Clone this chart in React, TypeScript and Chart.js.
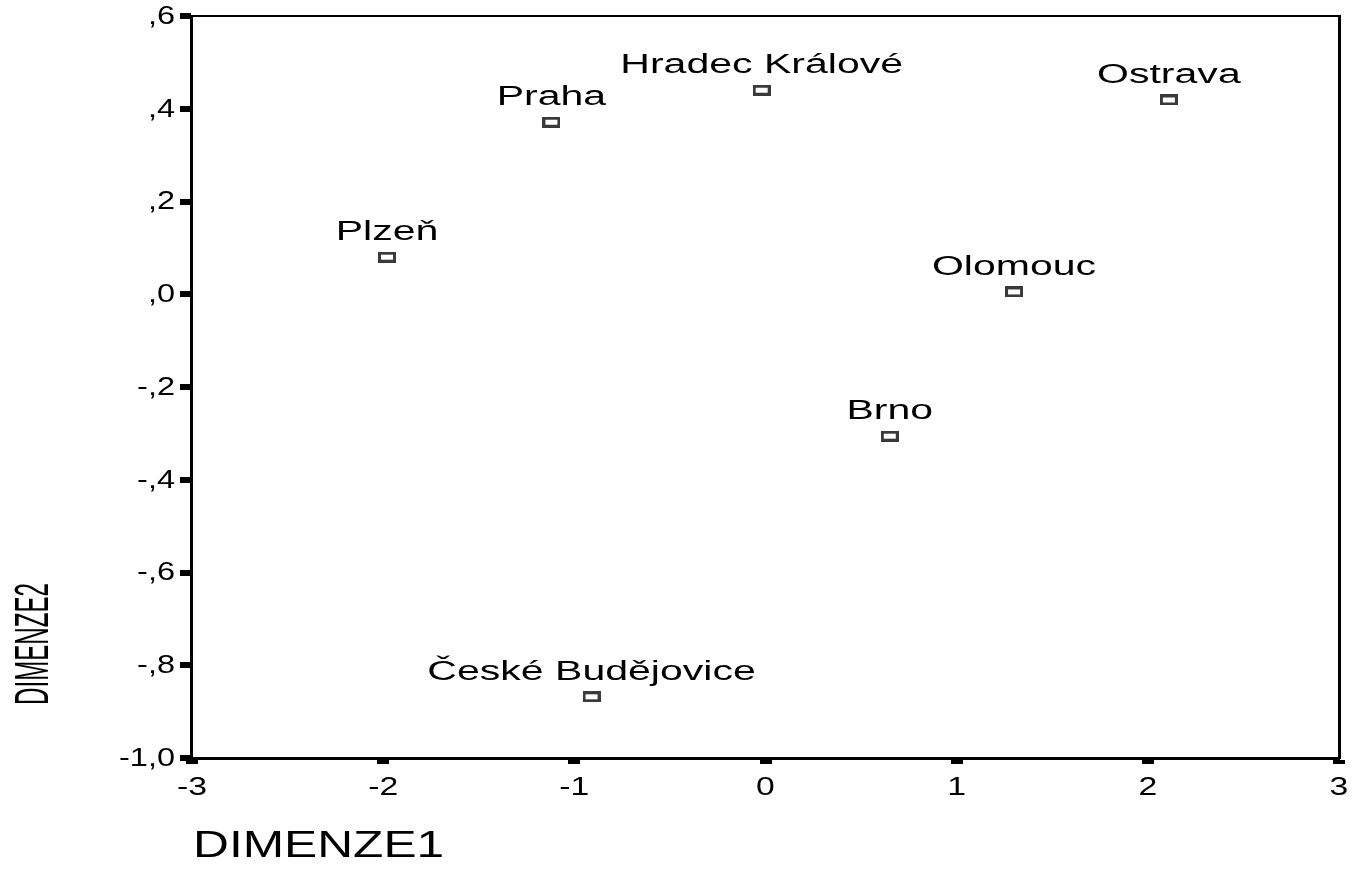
import React, { useEffect, useRef } from "react";
import { Chart, registerables } from "chart.js";

Chart.register(...registerables);

const cities = ["Praha", "Hradec Králové", "Ostrava", "Plzeň", "Olomouc", "Brno", "České Budějovice"];
const dimenze1 = [-1.12, -0.02, 2.11, -1.98, 1.3, 0.65, -0.91];
const dimenze2 = [0.371, 0.44, 0.419, 0.08, 0.005, -0.306, -0.868];

const xTickValues = [-3, -2, -1, 0, 1, 2, 3];
const xTickLabels = ["-3", "-2", "-1", "0", "1", "2", "3"];
const yTickValues = [0.6, 0.4, 0.2, 0, -0.2, -0.4, -0.6, -0.8, -1.0];
const yTickLabels = [",6", ",4", ",2", ",0", "-,2", "-,4", "-,6", "-,8", "-1,0"];

const xTitle = "DIMENZE1";
const yTitle = "DIMENZE2";

const FONT = '"Liberation Sans", Arial, sans-serif';

function drawStretched(
  ctx: CanvasRenderingContext2D,
  text: string,
  x: number,
  y: number,
  sx: number,
  sy: number,
  align: CanvasTextAlign,
  baseline: CanvasTextBaseline,
  rotate = false
) {
  ctx.save();
  ctx.translate(x, y);
  ctx.scale(sx, sy);
  if (rotate) ctx.rotate(-Math.PI / 2);
  ctx.textAlign = align;
  ctx.textBaseline = baseline;
  ctx.fillText(text, 0, 0);
  ctx.restore();
}

const decorPlugin = {
  id: "spssDecor",
  afterDraw(chart: any) {
    const ctx: CanvasRenderingContext2D = chart.ctx;
    const { left, right, top, bottom } = chart.chartArea;
    const xs = chart.scales.x;
    const ys = chart.scales.y;
    ctx.save();
    ctx.fillStyle = "#000";
    // frame
    ctx.fillRect(left - 2, top - 1, 3, bottom - top + 2);
    ctx.fillRect(left - 2, bottom - 1, right - left + 3, 3);
    ctx.fillRect(left - 2, top - 1, right - left + 3, 2);
    ctx.fillRect(right - 1, top - 1, 3, bottom - top + 2);

    // y tick marks and labels
    ctx.font = `25px ${FONT}`;
    yTickValues.forEach((v, i) => {
      const py = ys.getPixelForValue(v);
      ctx.fillRect(left - 12, Math.round(py) - 3, 11, 6);
      drawStretched(ctx, yTickLabels[i], left - 17, py + 1, 1.3, 1, "right", "middle");
    });
    // x tick marks and labels
    xTickValues.forEach((v, i) => {
      const px = xs.getPixelForValue(v);
      ctx.fillRect(Math.round(px) - 6, bottom + 2, 12, 4);
      drawStretched(ctx, xTickLabels[i], px, bottom + 30, 1.35, 1, "center", "middle");
    });

    // point labels
    const meta = chart.getDatasetMeta(0);
    ctx.font = `27px ${FONT}`;
    meta.data.forEach((el: any, i: number) => {
      drawStretched(ctx, cities[i], el.x, el.y - 17, 1.52, 1, "center", "alphabetic");
    });

    // axis titles
    ctx.font = `36px ${FONT}`;
    drawStretched(ctx, xTitle, left + 1, 857, 1.38, 1, "left", "alphabetic");
    drawStretched(ctx, yTitle, 35, 644, 1.35, 0.67, "center", "middle", true);
    ctx.restore();
  },
};

function makeMarker(): HTMLCanvasElement {
  const c = document.createElement("canvas");
  c.width = 18;
  c.height = 11;
  const g = c.getContext("2d")!;
  g.fillStyle = "#3a3a3a";
  g.fillRect(0, 0, 18, 11);
  g.fillStyle = "#ffffff";
  g.fillRect(3, 3, 12, 5);
  return c;
}

export default function App() {
  const ref = useRef<HTMLCanvasElement | null>(null);

  useEffect(() => {
    if (!ref.current) return;
    const marker = makeMarker();
    const chart = new Chart(ref.current, {
      type: "scatter",
      data: {
        datasets: [
          {
            data: dimenze1.map((x, i) => ({ x, y: dimenze2[i] })),
            pointStyle: marker as any,
            pointRadius: 9,
          },
        ],
      },
      options: {
        responsive: false,
        animation: false,
        layout: { padding: { top: 16, right: 14, left: 0, bottom: 0 } },
        plugins: { legend: { display: false }, tooltip: { enabled: false } },
        scales: {
          x: {
            type: "linear",
            min: -3,
            max: 3,
            ticks: { display: false, stepSize: 1 },
            grid: { display: false },
            border: { display: false },
            afterFit: (axis: any) => {
              axis.height = 129;
            },
          },
          y: {
            type: "linear",
            min: -1.0,
            max: 0.6,
            ticks: { display: false, stepSize: 0.2 },
            grid: { display: false },
            border: { display: false },
            afterFit: (axis: any) => {
              axis.width = 192;
            },
          },
        },
      },
      plugins: [decorPlugin],
    });
    return () => chart.destroy();
  }, []);

  return (
    <div style={{ position: "fixed", left: 0, top: 0, width: 1353, height: 887, background: "#fff" }}>
      <canvas ref={ref} width={1353} height={887} style={{ display: "block" }} />
    </div>
  );
}
